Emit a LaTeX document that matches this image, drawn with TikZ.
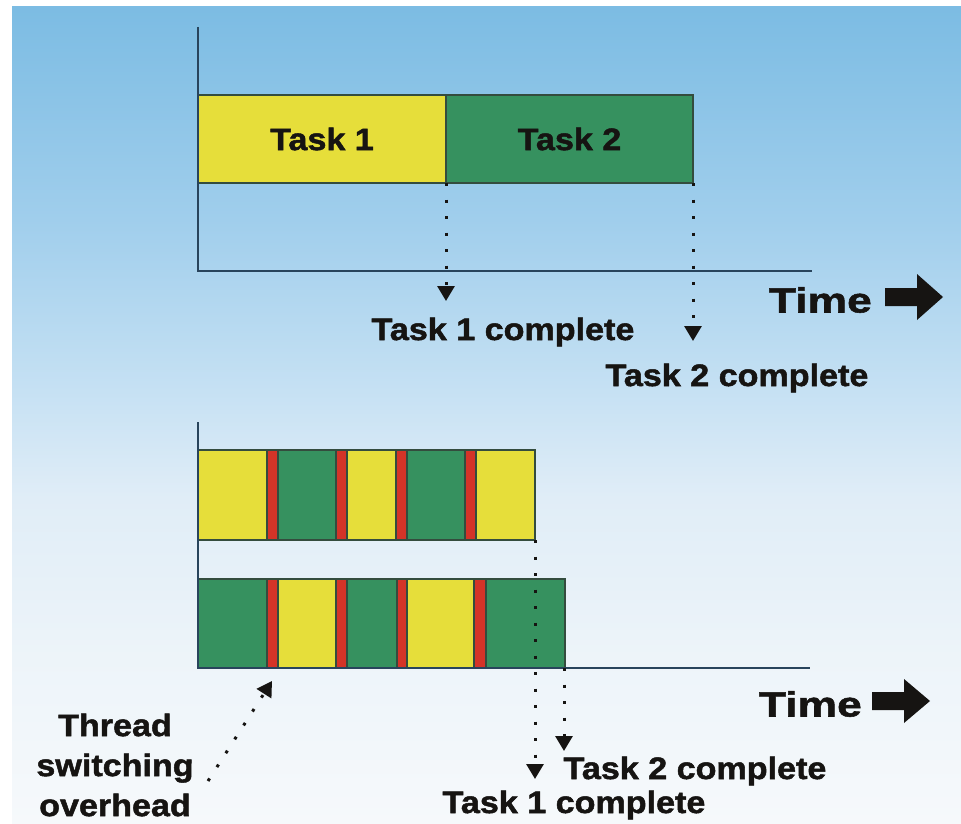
\documentclass[tikz,border=0pt]{standalone}
\usepackage{fontspec}
\setmainfont{Liberation Sans}[FakeStretch=1.1, BoldFeatures={FakeBold=1.6}]
\newfontfamily\timefont{Liberation Sans}[FakeStretch=1.27, BoldFeatures={FakeBold=1.6}]
\usetikzlibrary{arrows.meta}

\definecolor{bgtop}{RGB}{124,188,227}
\definecolor{bgmid}{RGB}{160,206,236}
\definecolor{bgmid2}{RGB}{196,224,243}
\definecolor{bglow}{RGB}{224,237,247}
\definecolor{bgbot}{RGB}{246,249,251}
\definecolor{taskyellow}{RGB}{230,222,58}
\definecolor{taskgreen}{RGB}{54,145,95}
\definecolor{switchred}{RGB}{212,52,40}
\definecolor{edgecol}{RGB}{52,76,62}
\definecolor{axiscol}{RGB}{40,68,92}
\definecolor{inkcol}{RGB}{22,20,18}

% sky-to-white backdrop; the path spans 25bp..75bp of the shading
\pgfdeclareverticalshading{skyfade}{100bp}{%
  color(0bp)=(bgbot); color(25bp)=(bgbot); color(35bp)=(bgbot!60!bglow);
  color(45bp)=(bglow); color(52bp)=(bgmid2); color(62bp)=(bgmid);
  color(75bp)=(bgtop); color(100bp)=(bgtop)}

\tikzset{
  seg/.style={draw=edgecol, line width=1.2pt, inner sep=0pt, outer sep=0pt,
    anchor=north west, text=inkcol},
  axisline/.style={draw=axiscol, line width=2.2pt},
  dotarrow/.style={draw=inkcol, line width=3pt, dash pattern=on 3pt off 13.5pt,
    -{Triangle[width=17pt,length=15pt]}},
  lbl/.style={font=\fontsize{31}{41}\selectfont\bfseries, text=inkcol, inner sep=0pt},
  timelbl/.style={font=\timefont\fontsize{35}{40}\selectfont\bfseries, text=inkcol, inner sep=0pt},
  blockarrow/.style={fill=inkcol}
}

\begin{document}
\begin{tikzpicture}[x=1pt, y=-1pt]
\useasboundingbox (0,0) rectangle (961,824);
\fill[white] (0,0) rectangle (961,824);
\shade[shading=skyfade] (12,7) rectangle (961,824);

% ---------- sequential execution ----------
\node[seg, fill=taskyellow, minimum width=248pt, minimum height=88pt] (t1) at (198,95)
  {\fontsize{31}{36}\selectfont\bfseries Task 1};
\node[seg, fill=taskgreen, minimum width=247pt, minimum height=88pt] (t2) at (446,95)
  {\fontsize{31}{36}\selectfont\bfseries Task 2};
\draw[axisline] (198,27) -- (198,271) -- (812,271);

\coordinate (tipA) at (446,301);
\coordinate (tipB) at (693,341);
\draw[dotarrow] (t1.south east) -- (tipA);
\draw[dotarrow] (t2.south east) -- (tipB);
\node[lbl] (doneA) at (503,332) {Task 1 complete};
\node[lbl] (doneB) at (737,378) {Task 2 complete};

\node[timelbl, anchor=east] (timeA) at (872,300) {Time};
\fill[blockarrow] (885,288) -- (917,288) -- (917,274) -- (943,297) -- (917,320)
  -- (917,306) -- (885,306) -- cycle;

% ---------- interleaved execution ----------
% upper row (task 1 starts first)
\node[seg, fill=taskyellow, minimum width=69pt, minimum height=90pt] (u1) at (198,450) {};
\node[seg, fill=switchred,  minimum width=11pt, minimum height=90pt] (u2) at (267,450) {};
\node[seg, fill=taskgreen,  minimum width=58pt, minimum height=90pt] (u3) at (278,450) {};
\node[seg, fill=switchred,  minimum width=11pt, minimum height=90pt] (u4) at (336,450) {};
\node[seg, fill=taskyellow, minimum width=49pt, minimum height=90pt] (u5) at (347,450) {};
\node[seg, fill=switchred,  minimum width=11pt, minimum height=90pt] (u6) at (396,450) {};
\node[seg, fill=taskgreen,  minimum width=58pt, minimum height=90pt] (u7) at (407,450) {};
\node[seg, fill=switchred,  minimum width=11pt, minimum height=90pt] (u8) at (465,450) {};
\node[seg, fill=taskyellow, minimum width=59pt, minimum height=90pt] (u9) at (476,450) {};
% lower row (task 2 starts first)
\node[seg, fill=taskgreen,  minimum width=69pt, minimum height=89pt] (l1) at (198,579) {};
\node[seg, fill=switchred,  minimum width=11pt, minimum height=89pt] (l2) at (267,579) {};
\node[seg, fill=taskyellow, minimum width=58pt, minimum height=89pt] (l3) at (278,579) {};
\node[seg, fill=switchred,  minimum width=11pt, minimum height=89pt] (l4) at (336,579) {};
\node[seg, fill=taskgreen,  minimum width=50pt, minimum height=89pt] (l5) at (347,579) {};
\node[seg, fill=switchred,  minimum width=10pt, minimum height=89pt] (l6) at (397,579) {};
\node[seg, fill=taskyellow, minimum width=67pt, minimum height=89pt] (l7) at (407,579) {};
\node[seg, fill=switchred,  minimum width=12pt, minimum height=89pt] (l8) at (474,579) {};
\node[seg, fill=taskgreen,  minimum width=79pt, minimum height=89pt] (l9) at (486,579) {};
\draw[axisline] (198,422) -- (198,668) -- (810,668);

\coordinate (tipC) at (535,779);
\coordinate (tipD) at (564,751);
\draw[dotarrow] (u9.south east) -- (tipC);
\draw[dotarrow] ([xshift=-1pt]l9.south east) -- (tipD);
\node[lbl] (doneD) at (695,771) {Task 2 complete};
\node[lbl] (doneC) at (574,805) {Task 1 complete};

\node[timelbl, anchor=east] (timeB) at (862,704) {Time};
\fill[blockarrow] (872,692) -- (904,692) -- (904,679) -- (930,701) -- (904,723)
  -- (904,710) -- (872,710) -- cycle;

% overhead annotation
\node[lbl, align=center, font=\fontsize{31}{40}\selectfont\bfseries] (ovh) at (115,765)
  {Thread\\switching\\overhead};
\coordinate (ovtail) at (208,781);
\coordinate (ovtip) at (272,681);
\draw[dotarrow] (ovtail) -- (ovtip);
\end{tikzpicture}
\end{document}
